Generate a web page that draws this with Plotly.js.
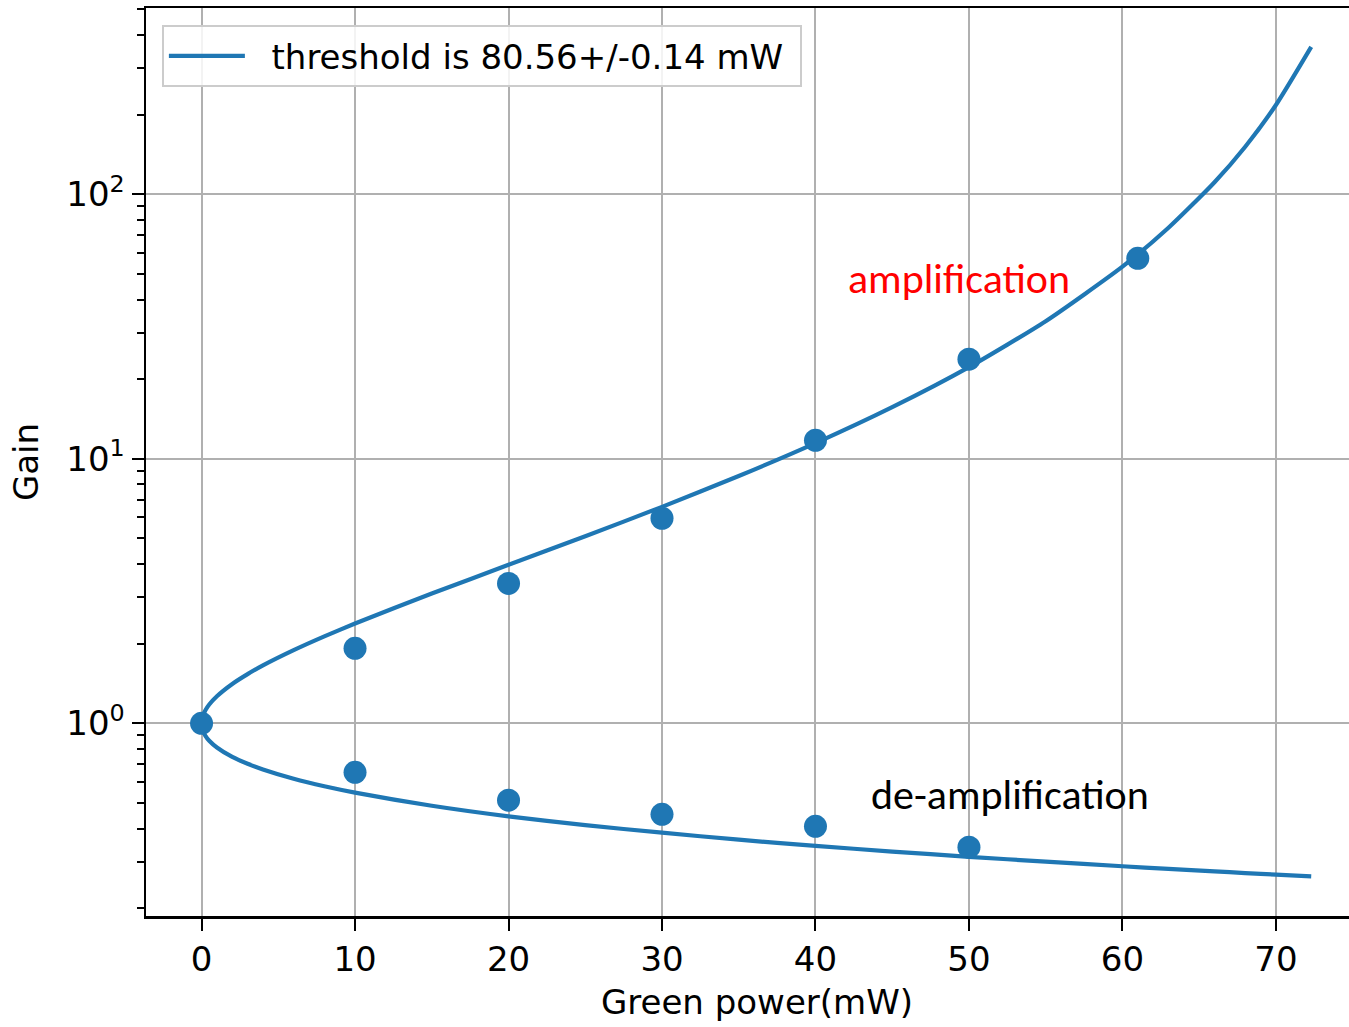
<!DOCTYPE html>
<html>
<head>
<meta charset="utf-8">
<script src="https://cdn.plot.ly/plotly-3.0.1.min.js"></script>
<style>
html, body { margin: 0; padding: 0; overflow: hidden; background: #fff; }
#chart { width: 1370px; height: 1027px; }
</style>
</head>
<body>
<div id="chart"></div>
<script>
// Fitted curve
const curvePower = [0, 0.02, 0.05, 0.1, 0.25, 0.5, 1, 2, 3, 4, 6, 8, 10, 15, 20, 25, 30, 35, 40, 45, 50, 55, 60, 63, 66, 68, 70, 72.3];
const curveAmp   = [1, 1.032, 1.052, 1.074, 1.121, 1.178, 1.266, 1.409, 1.535, 1.656, 1.891, 2.132, 2.384, 3.094, 3.973, 5.098, 6.581, 8.605, 11.46, 15.67, 22.21, 33.14, 53.28, 74.70, 111.0, 151.3, 217.5, 360.7];
const curveDeamp = [1, 0.969, 0.952, 0.933, 0.897, 0.859, 0.810, 0.746, 0.703, 0.669, 0.617, 0.578, 0.547, 0.488, 0.445, 0.412, 0.386, 0.363, 0.344, 0.3275, 0.3129, 0.2998, 0.2881, 0.2816, 0.2755, 0.2716, 0.2679, 0.2637];

// Measured points
const ampPower = [0, 10, 20, 30, 40, 50, 61];
const ampGain  = [1, 1.92, 3.38, 5.96, 11.75, 23.8, 57.3];
const deampPower = [10, 20, 30, 40, 50];
const deampGain  = [0.653, 0.512, 0.453, 0.408, 0.340];

const legendLabel = 'threshold is 80.56+/-0.14 mW';
const xTickVals = [0, 10, 20, 30, 40, 50, 60, 70];
const yTickVals = [1, 10, 100];
const yTickText = ['10<sup>0</sup>', '10<sup>1</sup>', '10<sup>2</sup>'];

const blue = '#1f77b4';
const fs = 34;

// Build one continuous path: de-amplification branch reversed, then amplification branch
const pathX = curvePower.slice().reverse().concat(curvePower.slice(1));
const pathY = curveDeamp.slice().reverse().concat(curveAmp.slice(1));

const traces = [
  {
    x: pathX, y: pathY, mode: 'lines', type: 'scatter',
    name: '\u00a0\u00a0' + legendLabel + '\u00a0',
    line: { color: blue, width: 4.2, shape: 'spline', smoothing: 0.6 },
    showlegend: true
  },
  {
    x: ampPower.concat(deampPower), y: ampGain.concat(deampGain),
    mode: 'markers', type: 'scatter', showlegend: false,
    marker: { color: blue, size: 23 }
  }
];

const axisCommon = {
  showline: true, linecolor: 'black', linewidth: 2.5,
  ticks: 'outside', ticklen: 12, tickwidth: 2, tickcolor: 'black',
  showgrid: true, gridcolor: '#b0b0b0', gridwidth: 2,
  zeroline: false,
  tickfont: { family: 'DejaVu Sans', size: fs, color: 'black' }
};

const layout = {
  width: 1370, height: 1027,
  margin: { l: 146, r: 2, t: 8, b: 111 },
  paper_bgcolor: 'white', plot_bgcolor: 'white',
  font: { family: 'DejaVu Sans', size: fs, color: 'black' },
  xaxis: Object.assign({}, axisCommon, {
    range: [-3.62, 76.0],
    tickmode: 'array', tickvals: xTickVals,
    mirror: true,
    title: { text: 'Green power(mW)', font: { family: 'DejaVu Sans', size: fs, color: 'black' }, standoff: 12 }
  }),
  yaxis: Object.assign({}, axisCommon, {
    type: 'log',
    range: [-0.7285, 2.7043],
    tickmode: 'array', tickvals: yTickVals, ticktext: yTickText,
    mirror: true,
    minor: { ticks: 'outside', ticklen: 7, tickwidth: 2, tickcolor: 'black', dtick: 'D1', showgrid: false },
    title: { text: 'Gain', font: { family: 'DejaVu Sans', size: fs, color: 'black' }, standoff: 18 }
  }),
  legend: {
    x: 0.013, y: 0.981, xanchor: 'left', yanchor: 'top',
    itemwidth: 76,
    bgcolor: 'rgba(255,255,255,0.85)', bordercolor: '#cccccc', borderwidth: 2,
    font: { family: 'DejaVu Sans', size: fs, color: 'black' }
  },
  annotations: [
    { xref: 'x', yref: 'y', x: 49.34, y: 1.680, text: 'amplification', showarrow: false,
      font: { family: 'Carlito, Lato, sans-serif', size: 42, color: 'red' } },
    { xref: 'x', yref: 'y', x: 52.66, y: -0.271, text: 'de-amplification', showarrow: false,
      font: { family: 'Carlito, Lato, sans-serif', size: 42, color: 'black' } }
  ]
};

Plotly.newPlot('chart', traces, layout, { displayModeBar: false, staticPlot: true });
</script>
</body>
</html>
